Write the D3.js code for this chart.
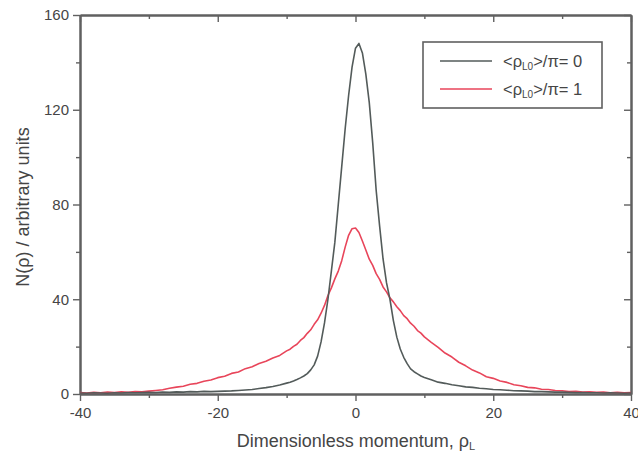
<!DOCTYPE html>
<html lang="en">
  <head>
    <meta charset="utf-8">
    <title>N(rho) vs momentum</title>
    <script src="https://d3js.org/d3.v7.min.js"></script>
    <style media="screen">
      body{
        margin:0;
        background-color:#ffffff;
      }
      text{
        font-family:"Liberation Sans", Arial, sans-serif;
        fill:#454545;
      }
    </style>
  </head>
  <body>
<svg id="chart"></svg>
  <script type="text/javascript">
    // momentum grid (coarse in the tails, finer round the peak)
    var momentum = [-40,-39,-38,-37,-36,-35,-34,-33,-32,-31,-30,-29,-28,-27,-26,-25,-24,-23,-22,-21,
      -20,-19,-18,-17,-16,-15,-14,-13,-12,-11,-10,
      -9.5,-9,-8.5,-8,-7.5,-7,-6.5,-6,-5.5,-5,-4.5,-4,-3.5,-3,-2.5,-2,-1.5,-1,-0.5,
      0,0.5,1,1.5,2,2.5,3,3.5,4,4.5,5,5.5,6,6.5,7,7.5,8,8.5,9,9.5,
      10,11,12,13,14,15,16,17,18,19,20,21,22,23,24,25,26,27,28,29,30,31,32,33,34,35,36,37,38,39,40];

    // <rho_L0>/pi = 0
    var countsZero = [0.4,0.3,0.5,0.4,0.3,0.5,0.4,0.6,0.5,0.6,0.7,0.6,0.8,0.7,0.9,0.8,1.0,0.9,1.1,1.0,
      1.1,1.2,1.3,1.5,1.7,1.9,2.3,2.7,3.2,3.8,4.6,
      5.0,5.5,6.1,6.8,7.6,8.6,10.2,12.3,16,22,30,40,52,64,80,96,112,126,138,
      146,148,144,135,123,106,86,71,57,47,40,31,24,19,15.5,12.8,10.6,9.4,8.5,7.6,
      7.0,6.0,5.0,4.5,3.9,3.5,3.0,2.8,2.4,2.2,1.9,1.8,1.6,1.4,1.3,1.2,1.0,1.0,0.9,0.8,0.8,0.7,0.6,0.6,0.5,0.5,0.4,0.5,0.4,0.3,0.4];

    // <rho_L0>/pi = 1
    var countsOne = [0.6,0.4,0.7,0.5,0.8,0.6,0.9,0.7,1.0,0.9,1.2,1.5,1.8,2.4,2.9,3.3,4.1,4.5,5.4,5.9,
      6.9,7.5,8.7,9.3,10.7,11.5,12.9,13.8,15.2,16.3,18.2,
      18.9,20.1,21.0,22.6,23.8,25.6,27.1,29.4,31.3,34.1,37.4,41.6,44.8,48.6,51.9,56.3,62.0,67.0,69.8,
      70.1,68.2,64.6,60.8,56.9,54.3,50.8,48.4,45.2,43.1,40.6,38.9,36.8,35.2,33.1,31.8,29.9,28.6,26.8,25.7,
      24.1,21.8,19.7,17.3,15.6,13.4,11.9,10.1,8.9,7.3,6.6,5.5,4.9,3.9,3.5,2.8,2.6,2.0,1.9,1.5,1.4,1.0,1.1,0.8,0.9,0.7,0.8,0.5,0.7,0.5,0.6];

    var xMajor = [-40,-20,0,20,40];
    var xMinor = [-30,-10,10,30];
    var yMajor = [0,40,80,120,160];
    var yMinor = [20,60,100,140];
    var seriesNames = ["0","1"];
    var seriesColors = ["#535b5a","#e8455a"];

    var width = 638;
    var height = 453;
    var pLeft = 80, pRight = 631, pTop = 15, pBottom = 394;

    var svg = d3.select("#chart")
                .attr("width",width)
                .attr("height",height);

    var x = d3.scaleLinear().domain([-40,40]).range([pLeft,pRight]);
    var y = d3.scaleLinear().domain([0,160]).range([pBottom,pTop]);

    var line = d3.line()
                 .x(function(d){ return x(d[0]); })
                 .y(function(d){ return y(d[1]); });

    var plain = function(d){ return String(d); };

    function styleAxis(g){
      g.selectAll(".domain").attr("stroke","#606060").attr("stroke-width",2);
      g.selectAll(".tick line").attr("stroke","#606060").attr("stroke-width",1.4);
      g.selectAll("text").attr("fill","#454545").style("font-size","15px")
       .style("font-family","'Liberation Sans', Arial, sans-serif");
    }

    // mirrored top + right, ticks inward
    var gt = svg.append("g").attr("transform","translate(0,"+pTop+")")
      .call(d3.axisTop(x).tickValues(xMajor).tickSize(-7).tickSizeOuter(0).tickFormat(""));
    styleAxis(gt);
    var gtm = svg.append("g").attr("transform","translate(0,"+pTop+")")
      .call(d3.axisTop(x).tickValues(xMinor).tickSize(-4).tickSizeOuter(0).tickFormat(""));
    styleAxis(gtm);
    var gr = svg.append("g").attr("transform","translate("+pRight+",0)")
      .call(d3.axisRight(y).tickValues(yMajor).tickSize(-7).tickSizeOuter(0).tickFormat(""));
    styleAxis(gr);
    var grm = svg.append("g").attr("transform","translate("+pRight+",0)")
      .call(d3.axisRight(y).tickValues(yMinor).tickSize(-4).tickSizeOuter(0).tickFormat(""));
    styleAxis(grm);

    // bottom + left with labels, ticks outward
    var gx = svg.append("g").attr("transform","translate(0,"+pBottom+")")
      .call(d3.axisBottom(x).tickValues(xMajor).tickSize(7).tickSizeOuter(0).tickPadding(6).tickFormat(plain));
    styleAxis(gx);
    var gxm = svg.append("g").attr("transform","translate(0,"+pBottom+")")
      .call(d3.axisBottom(x).tickValues(xMinor).tickSize(4).tickSizeOuter(0).tickFormat(""));
    styleAxis(gxm);

    var gy = svg.append("g").attr("transform","translate("+pLeft+",0)")
      .call(d3.axisLeft(y).tickValues(yMajor).tickSize(7).tickSizeOuter(0).tickPadding(4).tickFormat(plain));
    styleAxis(gy);
    var gym = svg.append("g").attr("transform","translate("+pLeft+",0)")
      .call(d3.axisLeft(y).tickValues(yMinor).tickSize(4).tickSizeOuter(0).tickFormat(""));
    styleAxis(gym);

    // curves
    var seriesData = [countsOne, countsZero];
    var seriesCol = [seriesColors[1], seriesColors[0]];
    seriesData.forEach(function(vals,i){
      svg.append("path")
         .datum(d3.zip(momentum, vals))
         .attr("d",line)
         .attr("fill","none")
         .attr("stroke",seriesCol[i])
         .attr("stroke-width",1.6)
         .attr("stroke-linejoin","round");
    });

    // axis titles
    var xt = svg.append("text")
       .attr("x",356)
       .attr("y",447)
       .attr("text-anchor","middle")
       .style("font-size","18px");
    xt.append("tspan").text("Dimensionless momentum, ");
    xt.append("tspan").text("ρ");
    xt.append("tspan").text("L").style("font-size","11px").attr("dy",3);

    svg.append("text")
       .attr("transform","translate(29,"+207+") rotate(-90)")
       .attr("text-anchor","middle")
       .style("font-size","18px")
       .text("N(ρ) / arbitrary units");

    // legend
    var lg = svg.append("g");
    lg.append("rect")
      .attr("x",423).attr("y",42)
      .attr("width",179).attr("height",66)
      .attr("fill","#ffffff")
      .attr("stroke","#606060")
      .attr("stroke-width",1.6);
    seriesNames.forEach(function(name,i){
      var ly = 61 + i*28;
      lg.append("line")
        .attr("x1",440).attr("x2",492)
        .attr("y1",ly).attr("y2",ly)
        .attr("stroke",seriesColors[i])
        .attr("stroke-width",1.6);
      var t = lg.append("text")
        .attr("x",503).attr("y",ly+6)
        .style("font-size","16.5px");
      t.append("tspan").text("<ρ");
      t.append("tspan").text("L0").style("font-size","10px").attr("dy",3);
      t.append("tspan").text(">/π= "+name).attr("dy",-3);
    });
  </script>
  </body>
</html>
